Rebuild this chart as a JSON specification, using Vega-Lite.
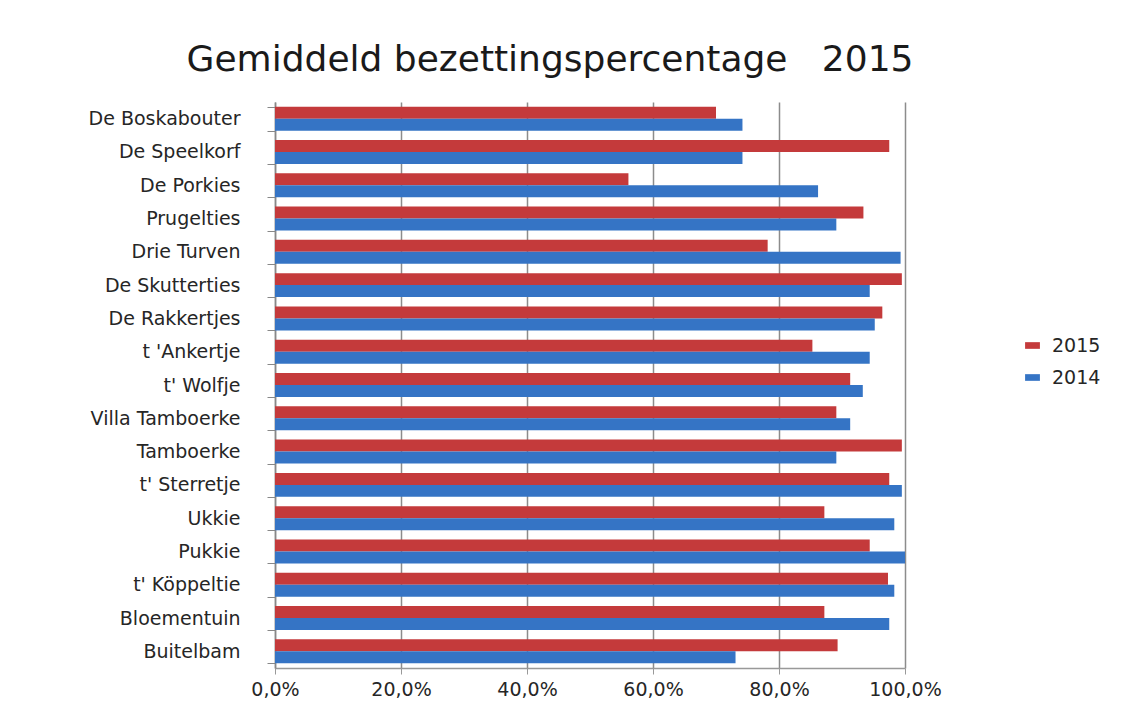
{
  "$schema": "https://vega.github.io/schema/vega-lite/v6.json",
  "autosize": {"type": "none"},
  "width": 630,
  "height": 566,
  "padding": {"left": 275, "top": 102, "right": 234, "bottom": 47},
  "background": "white",
  "title": {
    "text": "Gemiddeld bezettingspercentage \u00a0 2015",
    "font": "DejaVu Sans",
    "fontSize": 36,
    "fontWeight": "normal",
    "color": "#1a1a1a",
    "anchor": "middle",
    "dx": -40,
    "offset": 14
  },
  "data": {
    "values": [
      {"naam": "De Boskabouter", "jaar": "2015", "pct": 0.70},
      {"naam": "De Boskabouter", "jaar": "2014", "pct": 0.742},
      {"naam": "De Speelkorf", "jaar": "2015", "pct": 0.975},
      {"naam": "De Speelkorf", "jaar": "2014", "pct": 0.742},
      {"naam": "De Porkies", "jaar": "2015", "pct": 0.561},
      {"naam": "De Porkies", "jaar": "2014", "pct": 0.862},
      {"naam": "Prugelties", "jaar": "2015", "pct": 0.934},
      {"naam": "Prugelties", "jaar": "2014", "pct": 0.891},
      {"naam": "Drie Turven", "jaar": "2015", "pct": 0.782},
      {"naam": "Drie Turven", "jaar": "2014", "pct": 0.993},
      {"naam": "De Skutterties", "jaar": "2015", "pct": 0.995},
      {"naam": "De Skutterties", "jaar": "2014", "pct": 0.944},
      {"naam": "De Rakkertjes", "jaar": "2015", "pct": 0.964},
      {"naam": "De Rakkertjes", "jaar": "2014", "pct": 0.952},
      {"naam": "t 'Ankertje", "jaar": "2015", "pct": 0.853},
      {"naam": "t 'Ankertje", "jaar": "2014", "pct": 0.944},
      {"naam": "t' Wolfje", "jaar": "2015", "pct": 0.913},
      {"naam": "t' Wolfje", "jaar": "2014", "pct": 0.933},
      {"naam": "Villa Tamboerke", "jaar": "2015", "pct": 0.891},
      {"naam": "Villa Tamboerke", "jaar": "2014", "pct": 0.913},
      {"naam": "Tamboerke", "jaar": "2015", "pct": 0.995},
      {"naam": "Tamboerke", "jaar": "2014", "pct": 0.891},
      {"naam": "t' Sterretje", "jaar": "2015", "pct": 0.975},
      {"naam": "t' Sterretje", "jaar": "2014", "pct": 0.995},
      {"naam": "Ukkie", "jaar": "2015", "pct": 0.872},
      {"naam": "Ukkie", "jaar": "2014", "pct": 0.983},
      {"naam": "Pukkie", "jaar": "2015", "pct": 0.944},
      {"naam": "Pukkie", "jaar": "2014", "pct": 1.0},
      {"naam": "t' Köppeltie", "jaar": "2015", "pct": 0.973},
      {"naam": "t' Köppeltie", "jaar": "2014", "pct": 0.983},
      {"naam": "Bloementuin", "jaar": "2015", "pct": 0.872},
      {"naam": "Bloementuin", "jaar": "2014", "pct": 0.975},
      {"naam": "Buitelbam", "jaar": "2015", "pct": 0.893},
      {"naam": "Buitelbam", "jaar": "2014", "pct": 0.731}
    ]
  },
  "mark": {"type": "bar", "stroke": null},
  "encoding": {
    "y": {
      "field": "naam",
      "type": "nominal",
      "sort": null,
      "scale": {"paddingInner": 0.28, "paddingOuter": 0.14},
      "axis": {
        "title": null,
        "labelFont": "DejaVu Sans",
        "labelFontSize": 19,
        "labelColor": "#262626",
        "labelPadding": 27,
        "domainColor": "#888888",
        "domainWidth": 1.5,
        "tickColor": "#888888",
        "tickSize": 8,
        "tickBand": "extent",
        "grid": false
      }
    },
    "yOffset": {
      "field": "jaar",
      "type": "nominal",
      "scale": {"domain": ["2015", "2014"]}
    },
    "x": {
      "field": "pct",
      "type": "quantitative",
      "scale": {"domain": [0, 1]},
      "axis": {
        "title": null,
        "values": [0, 0.2, 0.4, 0.6, 0.8, 1.0],
        "labelExpr": "replace(format(datum.value, '.1%'), '.', ',')",
        "labelFont": "DejaVu Sans",
        "labelFontSize": 19,
        "labelColor": "#262626",
        "labelPadding": 6,
        "labelFlush": false,
        "grid": true,
        "gridColor": "#8c8c8c",
        "gridWidth": 1.5,
        "domainColor": "#999999",
        "domainWidth": 1.5,
        "tickColor": "#999999",
        "tickSize": 6
      }
    },
    "color": {
      "field": "jaar",
      "type": "nominal",
      "scale": {"domain": ["2015", "2014"], "range": ["#C43A3B", "#3574C5"]},
      "legend": {
        "title": null,
        "orient": "none",
        "legendX": 748,
        "legendY": 234,
        "symbolType": "M-1,-0.45H1V0.45H-1Z",
        "symbolSize": 220,
        "symbolStrokeWidth": 0,
        "labelFont": "DejaVu Sans",
        "labelFontSize": 19,
        "labelColor": "#262626",
        "labelOffset": 10,
        "rowPadding": 12
      }
    }
  },
  "config": {
    "view": {"stroke": null}
  }
}
